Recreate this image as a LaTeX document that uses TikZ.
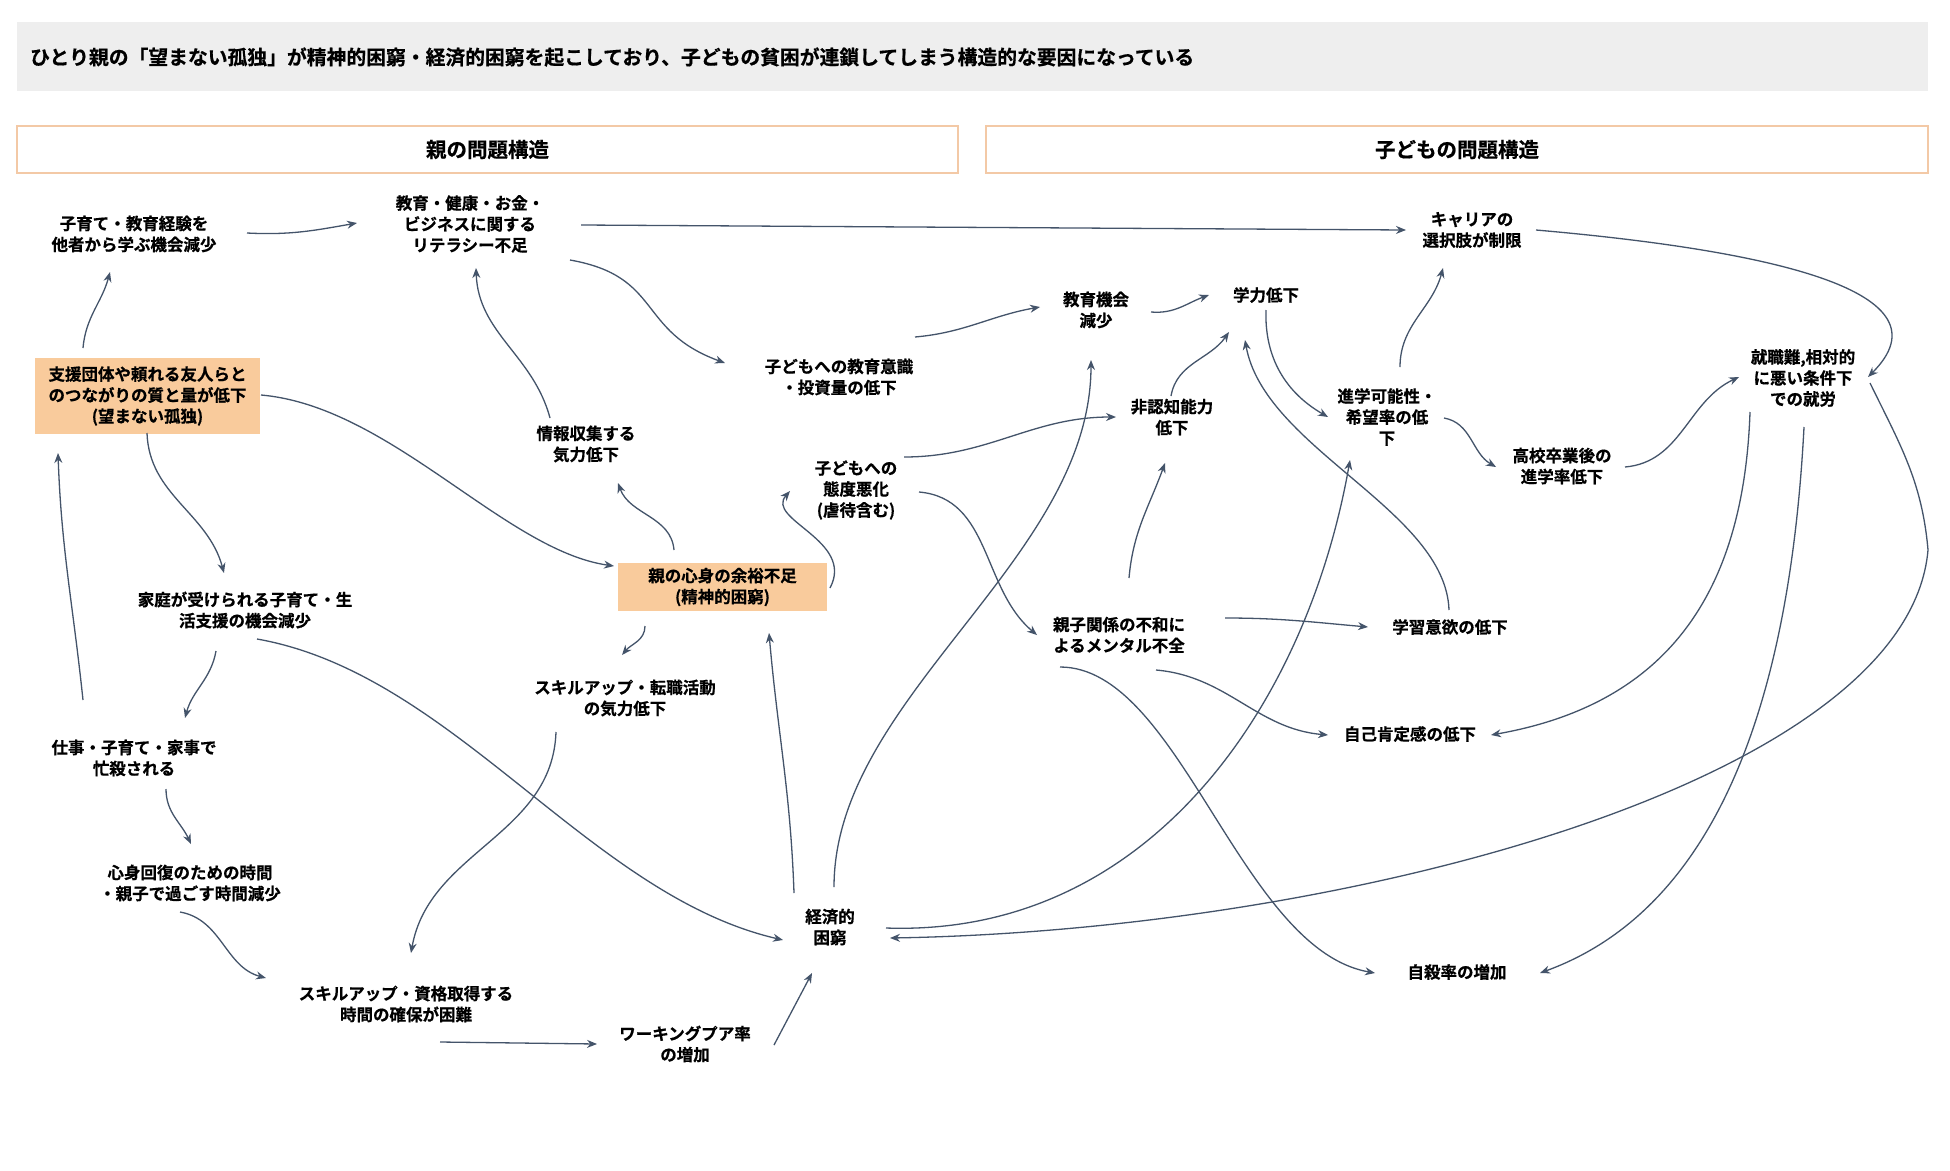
\documentclass[tikz,border=0pt]{standalone}
\usepackage{fontspec}
\setmainfont{Noto Sans CJK JP}[BoldFont={* Bold}, BoldFeatures={FakeBold=0.6}]
\usetikzlibrary{arrows.meta,calc}
\definecolor{titlegray}{HTML}{EEEEEE}
\definecolor{hdrborder}{HTML}{F3C9A6}
\definecolor{boxorange}{HTML}{F9CB9C}
\definecolor{linecol}{HTML}{44546A}
\tikzset{
  lbl/.style={align=center, font=\bfseries\fontsize{16.5}{21}\selectfont, inner sep=0pt},
  obox/.style={lbl, fill=boxorange},
  hdr/.style={draw=hdrborder, line width=1.3pt, fill=white, font=\bfseries\fontsize{20.5}{24}\selectfont},
  conn/.style={draw=linecol, line width=1.3pt, -{Stealth[length=10pt,width=8pt]}},
}
\begin{document}
\begin{tikzpicture}[x=1pt,y=1pt]
\useasboundingbox (0,0) rectangle (1950,-1170);
\fill[white] (0,0) rectangle (1950,-1170);
% title
\fill[titlegray] (17,-22) rectangle (1928,-91);
\node[anchor=west, font=\bfseries\fontsize{19.8}{24}\selectfont, inner sep=0pt] (title) at (30,-57) {ひとり親の「望まない孤独」が精神的困窮・経済的困窮を起こしており、子どもの貧困が連鎖してしまう構造的な要因になっている};
% headers
\node[hdr, minimum width=941, minimum height=47] (h1) at (487.5,-149.5) {親の問題構造};
\node[hdr, minimum width=942, minimum height=47] (h2) at (1457,-149.5) {子どもの問題構造};
% nodes
\node[lbl] (n1) at (134,-234) {子育て・教育経験を\\他者から学ぶ機会減少};
\node[lbl] (n2) at (470,-224) {教育・健康・お金・\\ビジネスに関する\\リテラシー不足};
\node[lbl] (n3) at (1472,-230) {キャリアの\\選択肢が制限};
\node[obox, minimum width=225, minimum height=76] (n4) at (147.5,-396) {支援団体や頼れる友人らと\\のつながりの質と量が低下\\(望まない孤独)};
\node[lbl] (n5) at (586,-444) {情報収集する\\気力低下};
\node[lbl] (n6) at (839,-377) {子どもへの教育意識\\・投資量の低下};
\node[lbl] (n7) at (1096,-310) {教育機会\\減少};
\node[lbl] (n8) at (1266,-295) {学力低下};
\node[lbl] (n9) at (1172,-417) {非認知能力\\低下};
\node[lbl] (n10) at (1387,-417) {進学可能性・\\希望率の低\\下};
\node[lbl] (n11) at (1562,-466) {高校卒業後の\\進学率低下};
\node[lbl] (n12) at (1803,-378) {就職難,相対的\\に悪い条件下\\での就労};
\node[lbl] (n13) at (856,-490) {子どもへの\\態度悪化\\(虐待含む)};
\node[obox, minimum width=209, minimum height=48] (n14) at (722.5,-587) {親の心身の余裕不足\\(精神的困窮)};
\node[lbl] (n15) at (245,-610) {家庭が受けられる子育て・生\\活支援の機会減少};
\node[lbl] (n16) at (625,-698) {スキルアップ・転職活動\\の気力低下};
\node[lbl] (n17) at (1119,-635) {親子関係の不和に\\よるメンタル不全};
\node[lbl] (n18) at (1450,-627) {学習意欲の低下};
\node[lbl] (n19) at (1410,-734) {自己肯定感の低下};
\node[lbl] (n20) at (134,-758) {仕事・子育て・家事で\\忙殺される};
\node[lbl] (n21) at (190,-883) {心身回復のための時間\\・親子で過ごす時間減少};
\node[lbl] (n22) at (830,-927) {経済的\\困窮};
\node[lbl] (n23) at (406,-1004) {スキルアップ・資格取得する\\時間の確保が困難};
\node[lbl] (n24) at (685,-1044) {ワーキングプア率\\の増加};
\node[lbl] (n25) at (1457,-972) {自殺率の増加};
\coordinate (w17) at (1928,-550);
% connectors
\draw[conn] ($(n4)+(-64.5,48)$) to[out=85,in=-105] ($(n1)+(-24,-38)$);
\draw[conn] ($(n1)+(113,1)$) to[out=-3,in=190] ($(n2)+(-113,1)$);
\draw[conn] ($(n2)+(111,-1)$) -- ($(n3)+(-66,0)$);
\draw[conn] ($(n2)+(100,-36)$) to[out=-10,in=160,looseness=1.3] ($(n6)+(-114,14)$);
\draw[conn] ($(n5)+(-36,26)$) to[out=105,in=-88] ($(n2)+(6,-44)$);
\draw[conn] ($(n6)+(76,40)$) to[out=5,in=190] ($(n7)+(-56,3)$);
\draw[conn] ($(n7)+(55,-2)$) to[out=-5,in=200] ($(n8)+(-57,0)$);
\draw[conn] ($(n8)+(0,-15)$) to[out=-92,in=150] ($(n10)+(-59,0)$);
\draw[conn] ($(n9)+(-1,21)$) to[out=80,in=-125] ($(n8)+(-37,-37)$);
\draw[conn] ($(n13)+(48,33)$) to[out=0,in=180] ($(n9)+(-56,0)$);
\draw[conn] ($(n10)+(13,50)$) to[out=90,in=-105] ($(n3)+(-29,-38)$);
\draw[conn] ($(n10)+(57,-1)$) to[out=-10,in=150] ($(n11)+(-66,-1)$);
\draw[conn] ($(n11)+(63,-1)$) to[out=5,in=205] ($(n12)+(-64,1)$);
\draw[conn] ($(n3)+(64,0)$) to[out=-5,in=45,out distance=240,in distance=120] ($(n12)+(65,1)$);
\draw[conn] ($(n12)+(-53,-34)$) to[out=-92,in=10,out distance=180,in distance=180] ($(n19)+(81,-1)$);
\draw[conn] ($(n12)+(1,-49)$) to[out=-93,in=20,out distance=250,in distance=200] ($(n25)+(83,-1)$);
\draw[conn] ($(n12)+(67,-5)$) to[out=-64,in=95] (w17) .. controls ($(w17)+(-20,-230)$) and ($(n22)+(520,-3)$) .. ($(n22)+(60,-11)$);
\draw[conn] ($(n22)+(4,40)$) to[out=90,in=-90,out distance=190,in distance=200] ($(n7)+(-5,-50)$);
\draw[conn] ($(n22)+(-36,34)$) to[out=92,in=-85] ($(n14)+(46.5,-46)$);
\draw[conn] ($(n22)+(56,-1)$) to[out=-2,in=-100,out distance=265,in distance=246] ($(n10)+(-37,-43)$);
\draw[conn] ($(n4)+(113.5,1)$) to[out=-5,in=172,out distance=130,in distance=110] ($(n14)+(-108.5,21)$);
\draw[conn] ($(n4)+(-0.5,-37)$) to[out=-88,in=105] ($(n15)+(-21,37)$);
\draw[conn] ($(n20)+(-51,58)$) to[out=96,in=-88] ($(n4)+(-89.5,-57)$);
\draw[conn] ($(n15)+(-29,-41)$) to[out=-100,in=75] ($(n20)+(51,40)$);
\draw[conn] ($(n20)+(32,-31)$) to[out=-90,in=115] ($(n21)+(1,39)$);
\draw[conn] ($(n21)+(-10,-29)$) to[out=-10,in=165] ($(n23)+(-140,26)$);
\draw[conn] ($(n15)+(12,-29)$) to[out=-10,in=167,out distance=200,in distance=200] ($(n22)+(-47,-13)$);
\draw[conn] ($(n14)+(-48.5,37)$) to[out=95,in=-70] ($(n5)+(32,-39)$);
\draw[conn] ($(n14)+(-77.5,-39)$) to[out=-90,in=50] ($(n16)+(-3,43)$);
\draw[conn] ($(n14)+(107.5,-1)$) to[out=62,in=-131,out distance=54,in distance=38] ($(n13)+(-66,-1)$);
\draw[conn] ($(n16)+(-69,-34)$) to[out=-92,in=80] ($(n23)+(5,51)$);
\draw[conn] ($(n23)+(34,-38)$) -- ($(n24)+(-88,0)$);
\draw[conn] ($(n24)+(89,-1)$) -- ($(n22)+(-18,-46)$);
\draw[conn] ($(n13)+(63,-2)$) to[out=-5,in=140] ($(n17)+(-82,0)$);
\draw[conn] ($(n17)+(106,17)$) to[out=0,in=175] ($(n18)+(-82,0)$);
\draw[conn] ($(n17)+(37,-35)$) to[out=-5,in=175] ($(n19)+(-82,-1)$);
\draw[conn] ($(n17)+(-59,-32)$) to[out=0,in=170,out distance=120,in distance=137] ($(n25)+(-82,-1)$);
\draw[conn] ($(n17)+(10,57)$) to[out=85,in=-110] ($(n9)+(-7,-46)$);
\draw[conn] ($(n18)+(-1,17)$) to[out=92,in=-80,out distance=100,in distance=110] ($(n8)+(-21,-45)$);
\end{tikzpicture}
\end{document}
